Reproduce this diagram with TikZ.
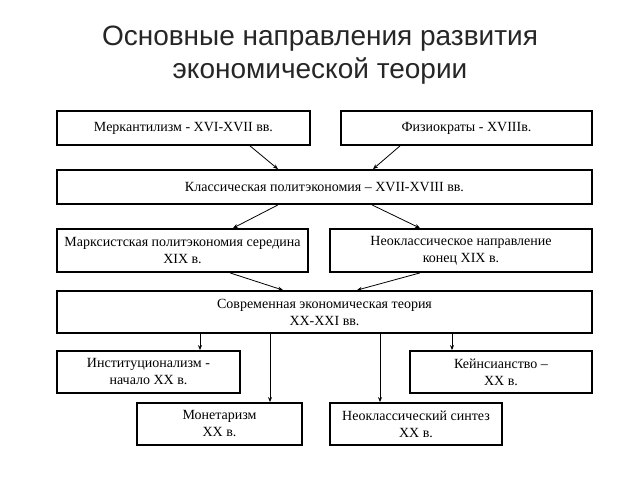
\documentclass[tikz,border=0pt]{standalone}
\usepackage{fontspec}
\setmainfont{Liberation Serif}
\newfontfamily\titlefont{Liberation Sans}
\usetikzlibrary{arrows.meta, positioning, calc}

\begin{document}
\begin{tikzpicture}[
        x=1pt, y=-1pt,
        box/.style={rectangle, draw=black, line width=1.8pt, inner sep=2pt, align=center, font=\fontsize{14}{17}\selectfont},
        arrow/.style={line width=0.8pt, -{Stealth[length=5pt, width=4pt]}}
    ]
        \useasboundingbox (0,0) rectangle (640,480);

        % Title
        \node (title) at (320,55) [align=center, font=\titlefont\fontsize{28}{33}\selectfont, text=black!85] {Основные направления развития\\экономической теории};

        % Sources
        \node[box, minimum width=253pt, minimum height=34pt] (merc) at (183.5,128) {Меркантилизм - XVI-XVII вв.};
        \node[box, minimum width=251pt, minimum height=34pt] (fiz) at (466.5,128) {Физиократы - XVIIIв.};

        % Classical school
        \node[box, minimum width=535pt, minimum height=34pt] (klass) at (324.5,187) {Классическая политэкономия -- XVII-XVIII вв.};

        % Branches
        \node[box, minimum width=251pt, minimum height=43pt] (marx) at (182.5,250.5) {Марксистская политэкономия середина\\XIX в.};
        \node[box, minimum width=262pt, minimum height=43pt] (neocl) at (461,250.5) {Неоклассическое направление\\конец XIX в.};

        % Modern theory
        \node[box, minimum width=535pt, minimum height=42pt] (sovr) at (324.5,312) {Современная экономическая теория\\XX-XXI вв.};

        % Schools of the XX century
        \node[box, minimum width=183pt, minimum height=42pt] (inst) at (148.5,372) {Институционализм -\\начало XX в.};
        \node[box, minimum width=182pt, minimum height=42pt] (keyn) at (501,372) {Кейнсианство --\\XX в.};
        \node[box, minimum width=165pt, minimum height=42pt] (monet) at (219.5,424) {Монетаризм\\XX в.};
        \node[box, minimum width=172pt, minimum height=42pt] (sint) at (416,424) {Неоклассический синтез\\XX в.};

        % Arrows into classical school
        \draw[arrow] ([xshift=66.5pt]merc.south) -- ([xshift=-46.5pt]klass.north);
        \draw[arrow] ([xshift=-66.5pt]fiz.south) -- ([xshift=48.5pt]klass.north);

        % Arrows to branches
        \draw[arrow] ([xshift=-46.5pt]klass.south) -- ([xshift=50.5pt]marx.north);
        \draw[arrow] ([xshift=47.5pt]klass.south) -- ([xshift=-41pt]neocl.north);

        % Arrows into modern theory
        \draw[arrow] ([xshift=47.5pt]marx.south) -- ([xshift=-41.5pt]sovr.north);
        \draw[arrow] ([xshift=-41pt]neocl.south) -- ([xshift=32.5pt]sovr.north);

        % Arrows to schools
        \draw[arrow] ([xshift=51.5pt]inst.north |- sovr.south) -- ([xshift=51.5pt]inst.north);
        \draw[arrow] ([xshift=50.5pt]monet.north |- sovr.south) -- ([xshift=50.5pt]monet.north);
        \draw[arrow] ([xshift=-36pt]sint.north |- sovr.south) -- ([xshift=-36pt]sint.north);
        \draw[arrow] ([xshift=-49pt]keyn.north |- sovr.south) -- ([xshift=-49pt]keyn.north);
    \end{tikzpicture}
\end{document}
